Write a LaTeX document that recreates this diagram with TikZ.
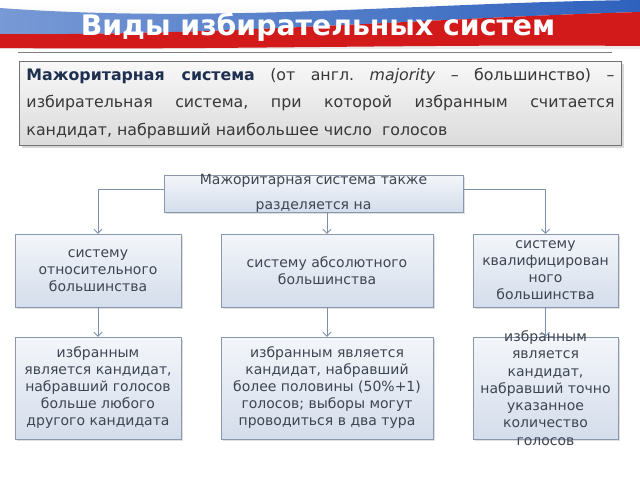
\documentclass[tikz,border=0pt]{standalone}
\usepackage{fontspec}
\setmainfont{DejaVu Sans}
\usetikzlibrary{arrows.meta,shadows}
\definecolor{boxline}{HTML}{8A98AE}
\definecolor{boxtop}{HTML}{F3F6FA}
\definecolor{boxbot}{HTML}{D4DDEB}
\definecolor{textgray}{HTML}{3E4552}
\definecolor{linkblue}{HTML}{7C8FAD}
\definecolor{flagblue}{HTML}{2F62BE}
\definecolor{flagred}{HTML}{D21A1A}
\definecolor{titlenavy}{HTML}{1E2F4F}

\begin{document}
\begin{tikzpicture}[x=1pt, y=-1pt,
  box/.style={draw=boxline, top color=boxtop, bottom color=boxbot, inner sep=2pt,
              align=center, text=textgray, font=\fontsize{14}{17}\selectfont,
              drop shadow={opacity=0.25, shadow xshift=1.5pt, shadow yshift=-1.5pt}},
  defbox/.style={draw=black!55, top color=black!3, bottom color=black!14,
                 minimum width=602pt, minimum height=84pt, text width=588pt,
                 align=justify, text=black!78, font=\fontsize{15.8}{27.5}\selectfont\frenchspacing,
                 drop shadow={opacity=0.3, shadow xshift=2pt, shadow yshift=-2pt}},
  lbl/.style={text=textgray, align=center, font=\fontsize{14}{25}\selectfont},
  arr/.style={-{Straight Barb[length=4pt, width=8pt]}, linkblue, line width=0.9pt},
]
\useasboundingbox[fill=white] (0,0) rectangle (640,480);
% Banner
\shade[top color=white, bottom color=black!8] (0,0) rectangle (640,48);
\shade[left color=flagblue!65, right color=flagblue] (0,8) .. controls (220,24) and (430,2) .. (640,0)
  -- (640,12) .. controls (430,18) and (220,36) .. (0,34) -- cycle;
\fill[flagred] (0,34) .. controls (220,36) and (430,18) .. (640,12)
  -- (640,46) .. controls (420,44) and (220,50) .. (0,48) -- cycle;
\node[font=\fontsize{28.3}{30}\selectfont\bfseries, text=white] (title) at (318,27) {Виды избирательных систем};
\draw[black!50, line width=1pt] (18,52) -- (612,52);
% Definition
\node[defbox] (def) at (320.5,103.5) {%
  {\color{titlenavy}\textbf{Мажоритарная система}} (от англ.\ \textit{majority} – большинство) –\linebreak
  избирательная система, при которой избранным считается\linebreak
  кандидат, набравший наибольшее число~\ голосов};
% Split
\node[box, minimum width=299pt, minimum height=37pt,
      label={[lbl]center:{Мажоритарная система также\\разделяется на}}] (split) at (313.5,193.5) {};
% Kinds
\node[box, minimum width=166pt, minimum height=73pt] (rel) at (98,270.5) {систему\\относительного\\большинства};
\node[box, minimum width=212pt, minimum height=73pt] (abs) at (327,270.5) {систему абсолютного\\большинства};
\node[box, minimum width=145pt, minimum height=73pt] (qual) at (545.5,270.5) {систему\\квалифицирован\\ного\\большинства};
% Winners
\node[box, minimum width=166pt, minimum height=102pt] (relwin) at (98,388)
  {избранным\\является кандидат,\\набравший голосов\\больше любого\\другого кандидата};
\node[box, minimum width=212pt, minimum height=102pt] (abswin) at (327,388)
  {избранным является\\кандидат, набравший\\более половины (50\%+1)\\голосов; выборы могут\\проводиться в два тура};
\node[box, minimum width=145pt, minimum height=102pt,
      label={[lbl, font=\fontsize{14}{17.3}\selectfont]center:{избранным\\является\\кандидат,\\набравший точно\\указанное\\количество\\голосов}}] (qualwin) at (545.5,388) {};
% Arrows
\draw[arr] ([yshift=4pt]split.west) -| (rel.north);
\draw[arr] ([yshift=4pt]split.east) -| (qual.north);
\draw[arr] (split.south -| abs.north) -- (abs.north);
\draw[arr] (rel.south) -- (relwin.north);
\draw[arr] (abs.south) -- (abswin.north);
\draw[arr] (qual.south) -- (qualwin.north);
\end{tikzpicture}
\end{document}
